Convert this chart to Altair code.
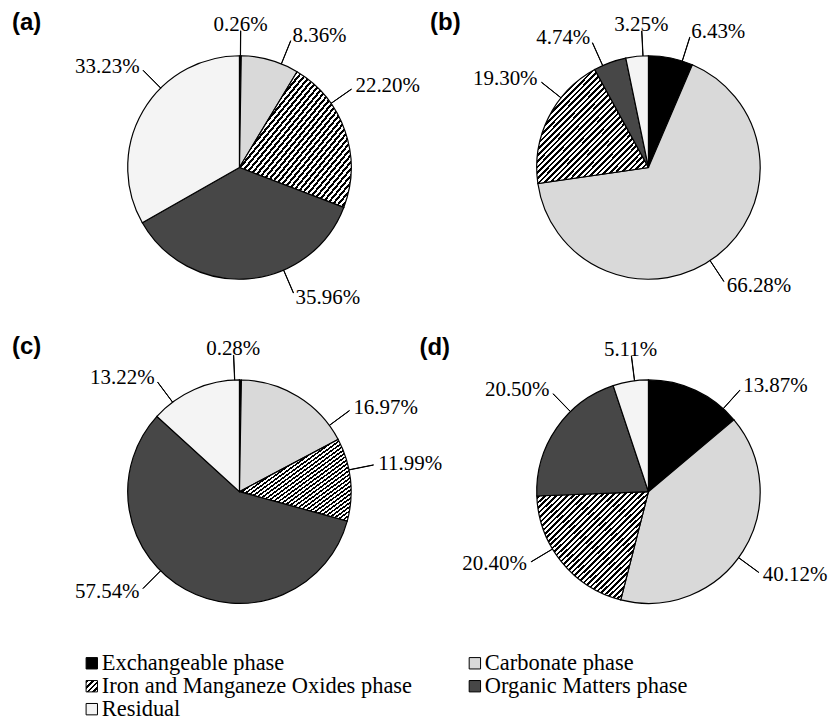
import math
import altair as alt
import pandas as pd

# ---------------- data ----------------
phases = ["Exchangeable phase", "Carbonate phase",
          "Iron and Manganeze Oxides phase", "Organic Matters phase", "Residual"]
panels = ["(a)", "(b)", "(c)", "(d)"]

values_a = [0.26, 8.36, 22.20, 35.96, 33.23]
values_b = [6.43, 66.28, 19.30, 4.74, 3.25]
values_c = [0.28, 16.97, 11.99, 57.54, 13.22]
values_d = [13.87, 40.12, 20.40, 20.50, 5.11]

# small angular nudges (degrees) of the value labels away from the slice mid-angle
nudge_a = [0, 6, -16, -19, 15]
nudge_b = [6, 4, 12, -4, 3]
nudge_c = [-3, 22, -5, 16, -13]
nudge_d = [17, 4, 8, 11, 2]

legend_col = [0, 1, 0, 1, 0]
legend_row = [0, 0, 1, 1, 2]

rows = []
for p, vals, nud in zip(panels, [values_a, values_b, values_c, values_d],
                        [nudge_a, nudge_b, nudge_c, nudge_d]):
    for i, (ph, v, n) in enumerate(zip(phases, vals, nud)):
        rows.append({"panel": p, "phase": ph, "idx": i, "value": v, "nudge": n})
df = pd.DataFrame(rows)

legend_df = pd.DataFrame({"phase": phases, "idx": list(range(5)),
                          "col": legend_col, "row": legend_row})

# ---------------- styles ----------------
SERIF = "Liberation Serif, Times New Roman, Times, DejaVu Serif, serif"
SANS = "Liberation Sans, Arial, sans-serif"
CARB = "#d9d9d9"
ORG = "#474747"
RES = "#f4f4f4"


def hatch(n, frac=0.48):
    stops = []
    for k in range(n):
        a = round(k / n, 5)
        b = round((k + frac) / n, 5)
        c = round((k + 1) / n, 5)
        stops += [{"offset": a, "color": "black"}, {"offset": b, "color": "black"},
                  {"offset": b, "color": "white"}, {"offset": c, "color": "white"}]
    return {"gradient": "linear", "x1": 0, "y1": 0, "x2": 1, "y2": 1, "stops": stops}


HATCH = hatch(40)
HATCH_SMALL = hatch(4)


def fill_for(h):
    return (alt.when(alt.datum.idx == 0).then(alt.value("black"))
            .when(alt.datum.idx == 1).then(alt.value(CARB))
            .when(alt.datum.idx == 2).then(alt.value(h))
            .when(alt.datum.idx == 3).then(alt.value(ORG))
            .otherwise(alt.value(RES)))


theta_scale = alt.Scale(domain=[0, 360], range=[0, 2 * math.pi])
R = 112
W = 350
H = 264


def panel(key, title_dx):
    base = (alt.Chart(df)
            .transform_filter(alt.datum.panel == key)
            .transform_joinaggregate(total="sum(value)")
            .transform_window(cum="sum(value)", sort=[alt.SortField("idx")], frame=[None, 0])
            .transform_calculate(a1="datum.cum / datum.total * 360",
                                 a0="(datum.cum - datum.value) / datum.total * 360")
            .transform_calculate(am="(datum.a0 + datum.a1) / 2 + datum.nudge")
            .transform_calculate(
                am2="datum.am + 0.1",
                side="(datum.am < 4 || datum.am > 350) ? 'c' : (datum.am < 180 ? 'l' : 'r')",
                label="format(datum.value, '.2f') + '%'"))

    arcs = base.mark_arc(radius=R, stroke="black", strokeWidth=1.2).encode(
        theta=alt.Theta("a0:Q", scale=theta_scale, stack=False),
        theta2=alt.Theta2("a1:Q"),
        fill=fill_for(HATCH),
    )
    leaders = base.mark_arc(radius=R + 25, radius2=R, stroke="black",
                            strokeWidth=1, fill="black").encode(
        theta=alt.Theta("am:Q", scale=theta_scale, stack=False),
        theta2=alt.Theta2("am2:Q"),
    )

    def txt(side, align, radius):
        return (base.transform_filter(alt.datum.side == side)
                .mark_text(radius=radius, align=align, baseline="middle",
                           font=SERIF, fontSize=21, color="black")
                .encode(theta=alt.Theta("am:Q", scale=theta_scale, stack=False),
                        text="label:N"))

    return alt.layer(
        arcs, leaders,
        txt("l", "left", 142), txt("r", "right", 142), txt("c", "center", 143),
    ).properties(
        width=W, height=H,
        title=alt.TitleParams(key, anchor="start", dx=title_dx, dy=25, font=SANS,
                              fontSize=24, fontWeight="bold", color="black"),
    )


lx = alt.X("col:Q", scale=alt.Scale(domain=[0, 1], range=[27, 411]), axis=None)
ly = alt.Y("row:Q", scale=alt.Scale(domain=[0, 2], range=[-21, 25]), axis=None)
leg_base = alt.Chart(legend_df)
leg_sq = leg_base.mark_square(size=130, stroke="black", strokeWidth=1, opacity=1).encode(
    x=lx, y=ly, fill=fill_for(HATCH_SMALL))
leg_tx = leg_base.mark_text(align="left", dx=10, baseline="middle", font=SERIF,
                            fontSize=22.5, color="black").encode(x=lx, y=ly, text="phase:N")
legend = alt.layer(leg_sq, leg_tx).properties(width=W, height=20)

chart = alt.concat(
    panel("(a)", -53), panel("(b)", -43),
    panel("(c)", -53), panel("(d)", -43),
    legend,
    columns=2, spacing={"row": 61, "column": 60}, bounds="flush", align="none",
).properties(
    padding={"left": 4, "top": 2, "right": 2, "bottom": 0},
    background="white",
).configure_view(strokeWidth=0)

chart.save("out.html", embed_options={"renderer": "svg", "actions": False})
